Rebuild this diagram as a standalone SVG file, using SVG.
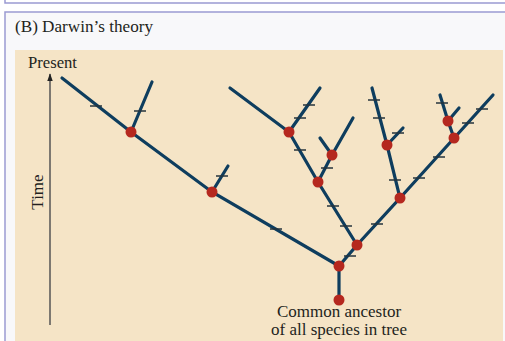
<svg xmlns="http://www.w3.org/2000/svg" width="505" height="341" viewBox="0 0 505 341">
<defs>
<style>
.frame{fill:#f8f8fa;stroke:#9a9ad2;stroke-width:1.5}
.br{stroke:#0e3d5e;stroke-width:3.2;stroke-linecap:round;fill:none}
.tk{stroke:#26343e;stroke-width:1.6}
.nd{fill:#b5281f}
.t{font-family:"Liberation Serif",serif;fill:#231f20}
</style>
<marker id="ah" viewBox="0 0 10 10" refX="9" refY="5" markerWidth="8" markerHeight="8" orient="auto" markerUnits="userSpaceOnUse">
<path d="M0,1.5 L10,5 L0,8.5 Z" fill="#222"/>
</marker>
</defs>
<rect x="0" y="0" width="505" height="341" fill="#ffffff"/>
<path d="M5,0 V3 H505" fill="none" stroke="#9a9ad2" stroke-width="1.5"/>
<rect class="frame" x="5" y="12" width="510" height="340"/>
<rect x="15" y="50" width="488" height="291" fill="#f5e4c6"/>
<text class="t" x="15" y="32" font-size="17.5" textLength="138" lengthAdjust="spacingAndGlyphs">(B)  Darwin’s theory</text>
<g id="axis">
<line x1="50" y1="325" x2="50" y2="74" stroke="#555" stroke-width="1.5" marker-end="url(#ah)"/>
<text class="t" x="28" y="68" font-size="17" textLength="49" lengthAdjust="spacingAndGlyphs">Present</text>
<text class="t" x="43" y="192" font-size="17" text-anchor="middle" transform="rotate(-90 43 192)">Time</text>
</g>
<g id="connectors">
<path class="br" d="M62,78 L131,132 L212,192 L339,266 L339,300"/>
<path class="br" d="M131,132 L152,82"/>
<path class="br" d="M212,192 L228,166"/>
<path class="br" d="M339,266 L357,245 L318,182 L289,132 L230,88"/>
<path class="br" d="M289,132 L320,88"/>
<path class="br" d="M318,182 L332,155 L320,138"/>
<path class="br" d="M332,155 L353,118"/>
<path class="br" d="M357,245 L400,198 L387,145 L372,88"/>
<path class="br" d="M387,145 L403,128"/>
<path class="br" d="M400,198 L493,95"/>
<path class="br" d="M454,138 L448,121 L440,95"/>
<path class="br" d="M448,121 L459,108"/>
</g>
<g id="ticks">
<path class="tk" d="M90,106h12 M134,111h12 M216,176h12 M270,229h12 M344,256h12 M327,206h12 M340,226h12 M294,150h12 M321,168h12 M303,105h12 M294,118h12 M371,224h12 M389,180h12 M368,100h12 M373,118h12 M392,133h12 M413,178h12 M433,157h12 M462,123h12 M476,109h12 M436,103h12"/>
</g>
<g id="n-root"><circle class="nd" cx="339" cy="300" r="5.5"/></g>
<g id="n-a"><circle class="nd" cx="339" cy="266" r="5.5"/></g>
<g id="n-b"><circle class="nd" cx="212" cy="192" r="5.5"/></g>
<g id="n-c"><circle class="nd" cx="131" cy="132" r="5.5"/></g>
<g id="n-d"><circle class="nd" cx="357" cy="245" r="5.5"/></g>
<g id="n-e"><circle class="nd" cx="318" cy="182" r="5.5"/></g>
<g id="n-f"><circle class="nd" cx="289" cy="132" r="5.5"/></g>
<g id="n-g"><circle class="nd" cx="332" cy="155" r="5.5"/></g>
<g id="n-h"><circle class="nd" cx="400" cy="198" r="5.5"/></g>
<g id="n-i"><circle class="nd" cx="387" cy="145" r="5.5"/></g>
<g id="n-j"><circle class="nd" cx="454" cy="138" r="5.5"/></g>
<g id="n-k"><circle class="nd" cx="448" cy="121" r="5.5"/></g>
<g id="label">
<text class="t" font-size="17" text-anchor="middle"><tspan x="339" y="317">Common ancestor</tspan><tspan x="339" y="335">of all species in tree</tspan></text>
</g>
</svg>
